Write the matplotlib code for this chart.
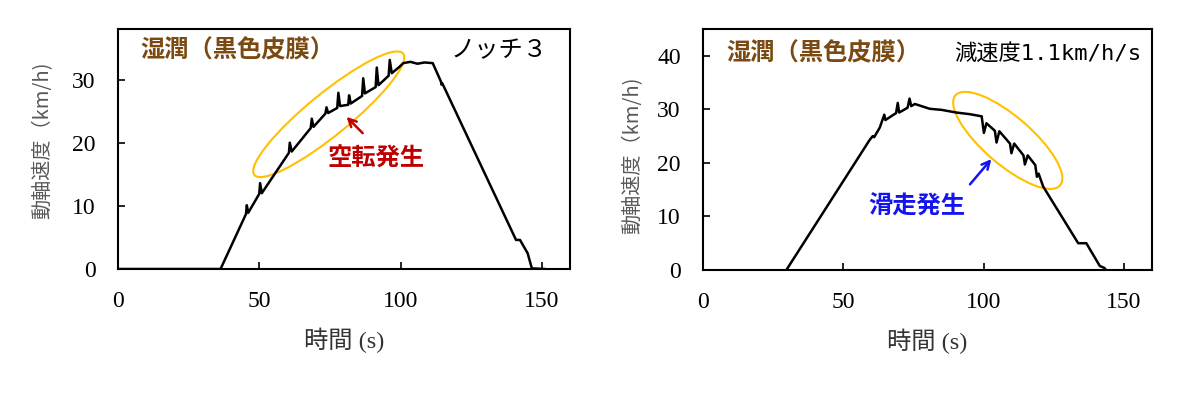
import matplotlib
matplotlib.use('Agg')
import matplotlib.pyplot as plt
from matplotlib.patches import Ellipse
from matplotlib.transforms import ScaledTranslation

plt.rcParams['font.family'] = ['Liberation Serif', 'Noto Sans CJK JP']

# ---- data: left panel (notch 3, wheel slip) ----
t_notch = [0, 36.3,
           45.3, 45.6, 46.1,
           50.0, 50.3, 50.9,
           60.5, 60.8, 61.5,
           68.2, 68.6, 69.2,
           73.4, 73.8, 74.4,
           77.6, 78.0, 78.6,
           81.5, 81.8, 82.4,
           86.4, 86.8, 87.4,
           91.2, 91.6, 92.2,
           95.8, 96.2, 96.9,
           99.6, 101.0, 103.5, 106.0, 108.5, 111.4,
           114.3, 114.5, 114.8,
           140.9, 142.3, 145.0, 146.5, 151.0]
v_notch = [0, 0,
           8.7, 10.1, 8.9,
           11.9, 13.6, 12.0,
           18.4, 20.0, 18.6,
           22.3, 23.8, 22.5,
           24.6, 25.6, 24.7,
           25.5, 27.9, 25.8,
           26.0, 27.5, 26.2,
           27.4, 30.2, 27.8,
           28.8, 31.9, 29.1,
           30.6, 33.1, 31.0,
           32.0, 32.6, 32.8, 32.5, 32.7, 32.6,
           29.7, 29.2, 29.4,
           4.6, 4.6, 2.5, 0.1, 0]

# ---- data: right panel (deceleration 1.1 km/h/s, wheel slide) ----
t_brake = [29.7, 59.4, 60.5, 61.0, 63.0,
           64.6, 65.0, 68.8, 69.4, 69.9,
           72.9, 73.6, 74.2, 75.5, 80.8, 85.0, 90.3, 95.0, 99.3,
           100.1, 101.0, 104.0, 104.6, 105.6,
           109.4, 109.9, 110.9, 114.2, 114.7, 115.7,
           118.4, 119.0, 119.6, 121.2,
           133.7, 136.6, 141.4, 143.0, 143.6]
v_brake = [0, 24.3, 25.0, 24.8, 26.6,
           29.0, 28.0, 29.3, 31.2, 29.4,
           30.3, 32.0, 30.6, 31.0, 30.1, 29.9, 29.4, 29.1, 28.7,
           25.6, 27.4, 26.0, 23.8, 25.9,
           23.6, 21.8, 23.6, 21.4, 19.7, 21.4,
           19.6, 17.4, 18.0, 15.6,
           5.0, 5.0, 0.75, 0.4, 0]

x_ticks = [0, 50, 100, 150]
y_ticks_left = [0, 10, 20, 30]
y_ticks_right = [0, 10, 20, 30, 40]

fig = plt.figure(figsize=(12, 3.93), dpi=100)
ax1 = fig.add_axes([118 / 1200, 124 / 393, 452 / 1200, 240 / 393])
ax2 = fig.add_axes([703 / 1200, 123 / 393, 449 / 1200, 241 / 393])

cjk = ['Noto Sans CJK JP']


def style(ax, yticks, ymax):
    ax.set_xlim(0, 160)
    ax.set_ylim(0, ymax)
    ax.set_xticks(x_ticks)
    ax.set_yticks(yticks)
    ax.tick_params(direction='in', length=5, width=1.2, labelsize=17, pad=16)
    for s in ax.spines.values():
        s.set_linewidth(1.5)
    for lab in ax.get_xticklabels() + ax.get_yticklabels():
        lab.set_family('Liberation Serif')
    ax.set_xlabel('時間 (s)', fontsize=17.5, family=['Liberation Serif', 'Noto Sans CJK JP'],
                  color='#333333', labelpad=11)


def add_ellipse(ax, cx, cy, w_px, h_px, angle):
    tr = fig.dpi_scale_trans + ScaledTranslation(cx, cy, ax.transData)
    e = Ellipse((0, 0), w_px / 100, h_px / 100, angle=angle, fill=False,
                ec='#FFC000', lw=1.5, transform=tr, zorder=3)
    ax.add_patch(e)


# Left panel
ax1.plot(t_notch, v_notch, color='black', lw=1.8, zorder=4)
style(ax1, y_ticks_left, 38)
add_ellipse(ax1, 74.6, 24.5, 192, 42, 39.2)
ax1.annotate('', xy=(80.2, 24.4), xytext=(87.3, 21.2),
             arrowprops=dict(arrowstyle='->', color='#C00000', lw=1.8, mutation_scale=14))
ax1.text(91.4, 17.5, '空転発生', color='#C00000', fontsize=17.5, fontweight='bold',
         family=cjk, ha='center', va='center')
ax1.text(0.049, 0.9125, '湿潤（黒色皮膜）', color='#7B4A12', fontsize=17.5, fontweight='bold',
         family=cjk, ha='left', va='center', transform=ax1.transAxes)
ax1.text(0.951, 0.9125, 'ノッチ３', color='black', fontsize=17.5, family=cjk,
         ha='right', va='center', transform=ax1.transAxes)

# Right panel
ax2.plot(t_brake, v_brake, color='black', lw=1.8, zorder=4)
style(ax2, y_ticks_right, 45)
add_ellipse(ax2, 108.6, 24.2, 138, 48, -40.7)
ax2.annotate('', xy=(103.4, 21.1), xytext=(94.5, 15.6),
             arrowprops=dict(arrowstyle='->', color='#1414F0', lw=1.8, mutation_scale=14))
ax2.text(76.1, 11.9, '滑走発生', color='#1414F0', fontsize=17.5, fontweight='bold',
         family=cjk, ha='center', va='center')
ax2.text(0.052, 0.899, '湿潤（黒色皮膜）', color='#7B4A12', fontsize=17.5, fontweight='bold',
         family=cjk, ha='left', va='center', transform=ax2.transAxes)
ax2.text(0.976, 0.899, '減速度1.1km/h/s', color='black', fontsize=16,
         family=['DejaVu Sans Mono', 'Noto Sans CJK JP'],
         ha='right', va='center', transform=ax2.transAxes)

# Y labels
fig.text(43 / 1200, (393 - 140) / 393, '動軸速度（km/h)', rotation=90, color='#595959',
         fontsize=14.5, family=cjk, ha='center', va='center')
fig.text(633 / 1200, (393 - 155) / 393, '動軸速度（km/h)', rotation=90, color='#595959',
         fontsize=14.5, family=cjk, ha='center', va='center')

fig.savefig('out.png', dpi=100)
